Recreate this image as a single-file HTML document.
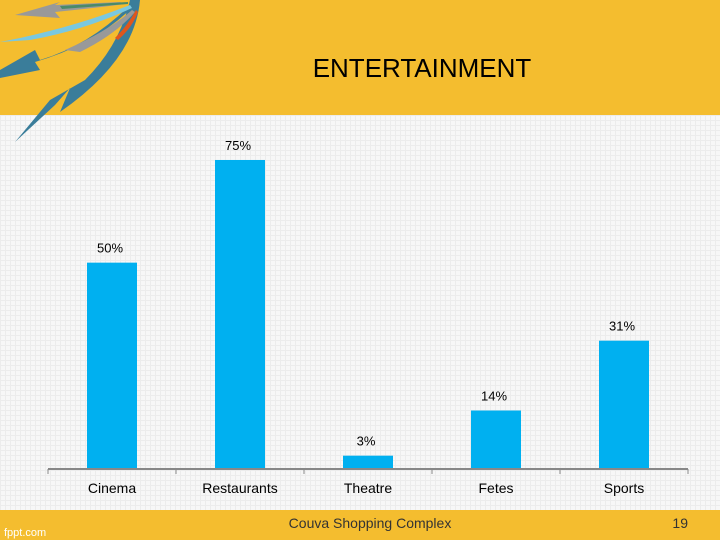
<!DOCTYPE html>
<html><head><meta charset="utf-8"><style>
body{margin:0;width:720px;height:540px;overflow:hidden;font-family:"Liberation Sans",sans-serif}
#bg{position:absolute;left:0;top:0;width:720px;height:540px;background:#f7f7f7;
background-image:linear-gradient(#ececec 1px,transparent 1px),linear-gradient(90deg,#ececec 1px,transparent 1px);background-size:5px 5px}
</style></head><body>
<div id="bg"></div>
<svg width="720" height="540" style="position:absolute;left:0;top:0">
<rect x="0" y="0" width="720" height="115" fill="#f4bd2f"/>
<rect x="0" y="510" width="720" height="30" fill="#f4bd2f"/>
<g>
<path d="M140,0 Q135,60 60,112 L70,88 L55,105 L15,142 L50,100 L85,80 Q120,45 130,0Z" fill="#3a7d9a"/>
<path d="M130,5 Q90,45 40,60 L35,50 L0,70 L0,78 L40,70 L35,62 Q95,45 135,5Z" fill="#3a7d9a"/>
<path d="M130,5 Q80,25 20,38 L0,42 L30,40 Q85,30 132,8Z" fill="#7ac8e0"/>
<path d="M120,2 L55,5 L60,2 L15,15 L60,18 L55,12 Q95,8 125,4Z" fill="#999"/>
<path d="M132,10 Q110,30 65,50 L80,52 Q115,35 135,12Z" fill="#999"/>
<path d="M136,10 Q128,25 115,38 L118,40 Q132,28 138,12Z" fill="#e0561c"/>
<path d="M128,2 L60,6 L62,9 L128,4Z" fill="#4a8a6a"/>
</g>
<text x="422" y="77" font-size="26" text-anchor="middle" fill="#000">ENTERTAINMENT</text>
<g id="chart"></g>
<text x="370" y="528" font-size="14" text-anchor="middle" fill="#333">Couva Shopping Complex</text>
<text x="688" y="528" font-size="14" text-anchor="end" fill="#333">19</text>
<text x="4" y="536" font-size="11" fill="#fff">fppt.com</text>
</svg>
<script>
const categories=["Cinema","Restaurants","Theatre","Fetes","Sports"];
const values=[50,75,3,14,31];
const labels=["50%","75%","3%","14%","31%"];
const NS="http://www.w3.org/2000/svg";
const g=document.getElementById("chart");
const x0=48,x1=688,base=468,slot=(x1-x0)/categories.length;
const y=v=>base-v*4.107;
function mk(t,a){const e=document.createElementNS(NS,t);for(const k in a)e.setAttribute(k,a[k]);g.appendChild(e);return e;}
categories.forEach((c,i)=>{
const cx=x0+slot*(i+0.5);
const b=mk("rect",{x:cx-25,y:y(values[i]),width:50,height:base-y(values[i]),fill:"#00b0f0"});


const l=mk("text",{x:cx-2,y:y(values[i])-10,"font-size":13,"text-anchor":"middle",fill:"#000"});
l.textContent=labels[i];


const t=mk("text",{x:cx,y:493,"font-size":14,"text-anchor":"middle",fill:"#000"});
t.textContent=c;


});
const ax=mk("path",{d:`M${x0},${base+1}H${x1}`,stroke:"#888","stroke-width":2});


for(let i=0;i<=categories.length;i++){
const tk=mk("path",{d:`M${x0+slot*i},${base+1}v5`,stroke:"#888","stroke-width":1});


}
</script>
</body></html>
